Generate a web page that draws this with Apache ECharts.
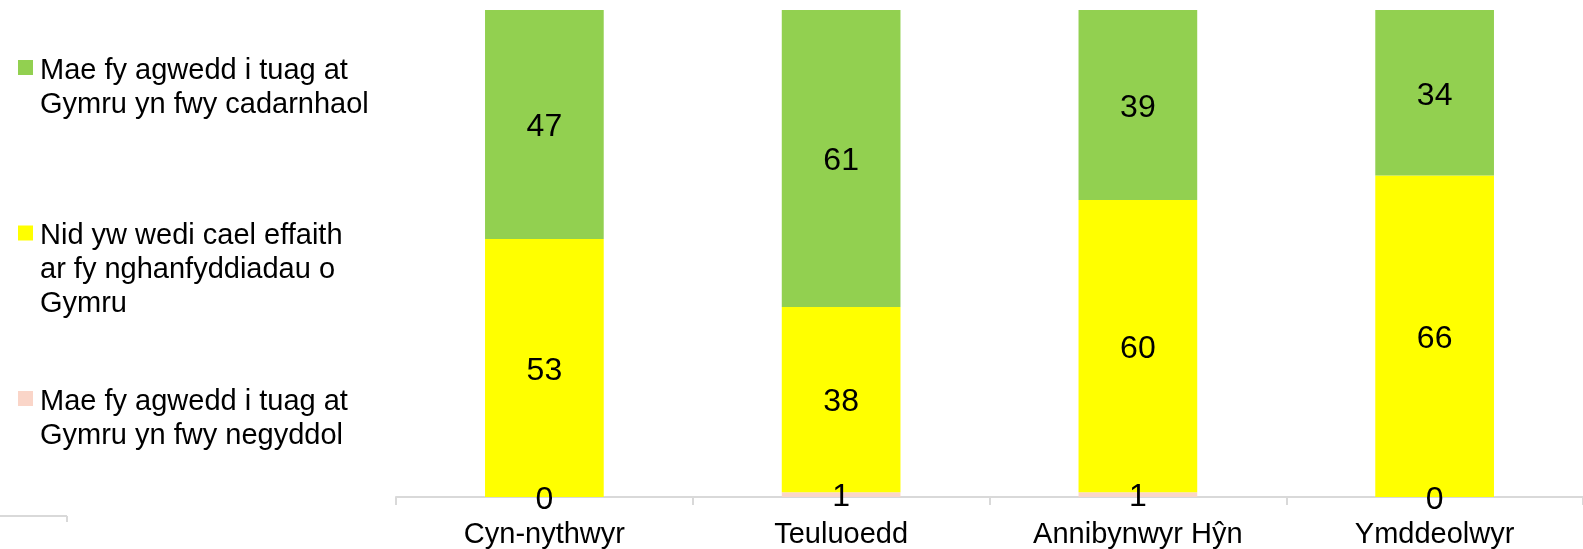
<!DOCTYPE html>
<html>
<head>
<meta charset="utf-8">
<script src="https://cdn.jsdelivr.net/npm/echarts@6/dist/echarts.min.js"></script>
<style>html,body{margin:0;padding:0;background:#fff}#c{width:1583px;height:549px}</style>
</head>
<body>
<div id="c"></div>
<script>
const categories = ['Cyn-nythwyr', 'Teuluoedd', 'Annibynwyr Hŷn', 'Ymddeolwyr'];
const negative = [0, 1, 1, 0];
const neutral = [53, 38, 60, 66];
const positive = [47, 61, 39, 34];
const names = [
  'Mae fy agwedd i tuag at\nGymru yn fwy cadarnhaol',
  'Nid yw wedi cael effaith\nar fy nghanfyddiadau o\nGymru',
  'Mae fy agwedd i tuag at\nGymru yn fwy negyddol'
];
const colors = ['#92D050', '#FFFF00', '#FAD5C8'];
const FONT = "'Liberation Sans', Arial, sans-serif";

function legendFor(i, top) {
  const lines = names[i].split('\n');
  return {
    data: [names[i]],
    left: 18,
    top: top,
    orient: 'vertical',
    padding: 0,
    itemWidth: 15,
    itemHeight: 15,
    icon: 'rect',
    selectedMode: false,
    // leading blank lines keep the icon level with the first text line
    formatter: function () {
      const blanks = ['{s| }'];
      for (let k = 1; k < lines.length - 1; k++) blanks.push('{t| }');
      return blanks.concat(lines.map(function (l) { return '{t|' + l + '}'; })).join('\n');
    },
    textStyle: {
      fontFamily: FONT, fontSize: 29, color: '#000', lineHeight: 34,
      rich: {
        s: { fontFamily: FONT, fontSize: 29, lineHeight: 40 },
        t: { fontFamily: FONT, fontSize: 29, color: '#000', lineHeight: 34, padding: [0, 0, 0, 2] }
      }
    }
  };
}

const chart = echarts.init(document.getElementById('c'));
const labelCfg = { show: true, position: 'inside', color: '#000', fontSize: 32, fontFamily: FONT, offset: [0, 3] };
chart.setOption({
  animation: false,
  legend: [
    legendFor(0, 13.5),
    legendFor(1, 145),
    legendFor(2, 344.5)
  ],
  grid: { left: 396, right: -8, top: 10, bottom: 52 },
  xAxis: {
    type: 'category',
    data: categories,
    axisLine: { lineStyle: { color: '#d9d9d9', width: 2 } },
    axisTick: { show: true, length: 8, lineStyle: { color: '#d9d9d9', width: 2 } },
    axisLabel: { color: '#000', fontSize: 29, fontFamily: FONT, margin: 23 }
  },
  yAxis: { type: 'value', min: 0, max: 100, show: false },
  series: [
    { name: names[2], type: 'bar', stack: 't', data: negative, barWidth: '40%',
      itemStyle: { color: colors[2] }, label: labelCfg },
    { name: names[1], type: 'bar', stack: 't', data: neutral, barWidth: '40%',
      itemStyle: { color: colors[1] }, label: labelCfg },
    { name: names[0], type: 'bar', stack: 't', data: positive, barWidth: '40%',
      itemStyle: { color: colors[0] }, label: labelCfg }
  ],
  graphic: [
    { type: 'line', shape: { x1: 0, y1: 516, x2: 67, y2: 516 }, style: { stroke: '#d9d9d9', lineWidth: 2 } },
    { type: 'line', shape: { x1: 67, y1: 516, x2: 67, y2: 522 }, style: { stroke: '#d9d9d9', lineWidth: 2 } }
  ]
});
</script>
</body>
</html>
